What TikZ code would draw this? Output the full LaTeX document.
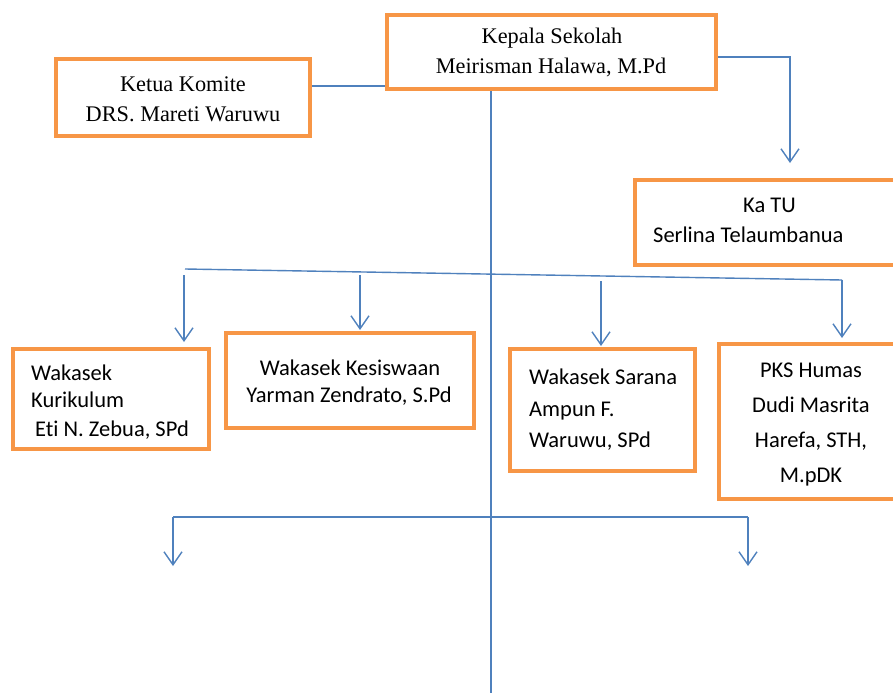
\documentclass[tikz,border=0pt]{standalone}
\usepackage{fontspec}
\setmainfont{Liberation Serif}
\newfontfamily\califont[Ligatures=NoCommon]{Carlito}
\usetikzlibrary{arrows.meta}
\definecolor{boxorange}{HTML}{F79646}
\definecolor{lineblue}{HTML}{4F81BD}
\tikzset{
  box/.style={draw=boxorange, line width=4pt, rectangle, inner sep=0pt},
  conn/.style={draw=lineblue, line width=1.4pt},
  arr/.style={conn, -{Straight Barb[length=13pt, width=18pt, line width=1.4pt]}},
  serif/.style={font=\fontsize{22.3}{26}\selectfont, inner sep=0pt, anchor=base},
  sans/.style={font=\califont\fontsize{22.5}{26}\selectfont, inner sep=0pt, anchor=base},
  sansl/.style={sans, anchor=base west},
}
\begin{document}
\begin{tikzpicture}[x=1pt, y=-1pt]
\useasboundingbox (0,0) rectangle (893,693);
\clip (0,0) rectangle (893,693);
\fill[white] (0,0) rectangle (893,693);

% boxes
\node[box, minimum width=329pt, minimum height=74pt] (kepala) at (551.5,52) {};
\node[box, minimum width=254pt, minimum height=77pt] (ketua) at (183,97.5) {};
\node[box, minimum width=325pt, minimum height=85pt] (katu) at (797.5,222.5) {};
\node[box, minimum width=196pt, minimum height=100pt] (kur) at (111,399) {};
\node[box, minimum width=248pt, minimum height=95pt] (kes) at (350,380.5) {};
\node[box, minimum width=185pt, minimum height=122pt] (sar) at (602.5,410) {};
\node[box, minimum width=184pt, minimum height=155pt] (pks) at (811,421.5) {};

% texts
\node[serif] (kepala1) at (552,44) {Kepala Sekolah};
\node[serif] (kepala2) at (551,73) {Meirisman Halawa, M.Pd};
\node[serif] (ketua1) at (183,91) {Ketua Komite};
\node[serif] (ketua2) at (183,121) {DRS. Mareti Waruwu};
\node[sansl] (katu1) at (743,212) {Ka TU};
\node[sansl] (katu2) at (653,242) {Serlina Telaumbanua};
\node[sansl] (kur1) at (31,380) {Wakasek};
\node[sansl] (kur2) at (31,407) {Kurikulum};
\node[sansl] (kur3) at (35,436) {Eti N. Zebua, SPd};
\node[sans] (kes1) at (350,375) {Wakasek Kesiswaan};
\node[sans] (kes2) at (349,402) {Yarman Zendrato, S.Pd};
\node[sansl] (sar1) at (529,384) {Wakasek Sarana};
\node[sansl] (sar2) at (529,416) {Ampun F.};
\node[sansl] (sar3) at (529,447) {Waruwu, SPd};
\node[sans] (pks1) at (811,377) {PKS Humas};
\node[sans] (pks2) at (811,412) {Dudi Masrita};
\node[sans] (pks3) at (811,447) {Harefa, STH,};
\node[sans] (pks4) at (811,482) {M.pDK};

% coordinates
\coordinate (katuIn) at (790,163);
\coordinate (vEnd) at (491,693);
\coordinate (h1) at (185,269);
\coordinate (h2) at (842,280);
\coordinate (s1) at (184,275);
\coordinate (s2) at (360,275);
\coordinate (s3) at (601,281);
\coordinate (b1) at (173,517);
\coordinate (b2) at (748,517);
\coordinate (b1tip) at (173,566);
\coordinate (b2tip) at (748,566);

% connectors
\draw[conn] ([yshift=11.5pt]ketua.east) -- ([yshift=11.5pt]ketua.east -| kepala.west);
\draw[arr] ([yshift=-5pt]kepala.east) -| (katuIn);
\draw[conn] ([xshift=-60.5pt]kepala.south) -- (vEnd);
\draw[conn] (h1) -- (h2);
\draw[arr, shorten >=4pt] (h2) -- (h2 |- pks.north);
\draw[arr, shorten >=5pt] (s1) -- (s1 |- kur.north);
\draw[arr, shorten >=1pt] (s2) -- (s2 |- kes.north);
\draw[arr, shorten >=1pt] (s3) -- (s3 |- sar.north);
\draw[conn] (b1) -- (b2);
\draw[arr] (b1) -- (b1tip);
\draw[arr] (b2) -- (b2tip);
\end{tikzpicture}
\end{document}
